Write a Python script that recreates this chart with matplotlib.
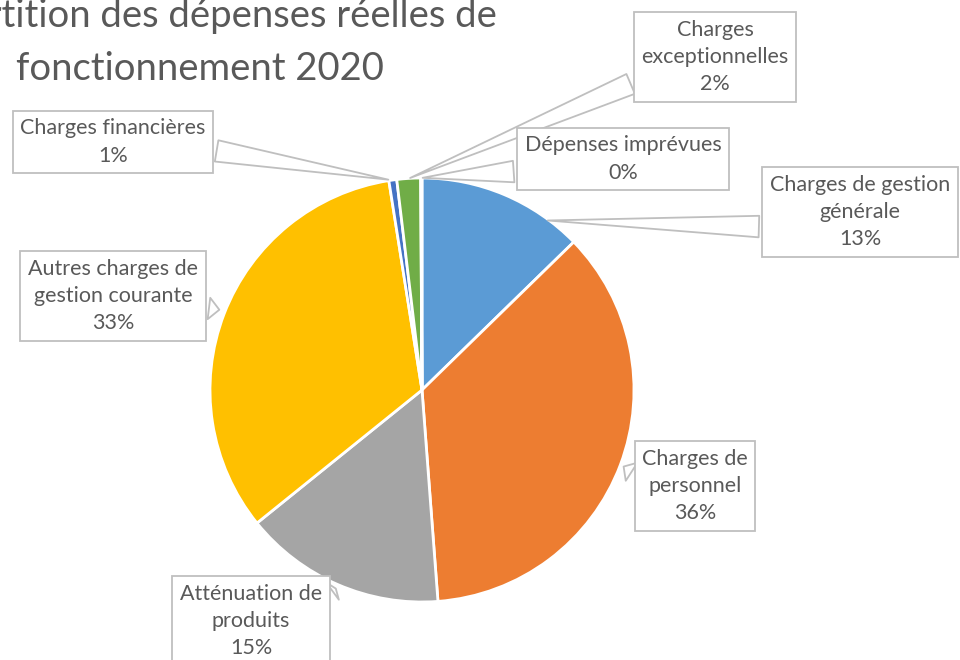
import matplotlib
matplotlib.use("Agg")
import matplotlib.pyplot as plt

# ---- data ----
categories = [
    "Charges de gestion\ngénérale",
    "Charges de\npersonnel",
    "Atténuation de\nproduits",
    "Autres charges de\ngestion courante",
    "Charges financières",
    "Charges\nexceptionnelles",
    "Dépenses imprévues",
]
values = [12.7, 36.1, 15.4, 33.3, 0.6, 1.8, 0.1]
title = "Répartition des dépenses réelles de\nfonctionnement 2020"

# ---- style ----
colors = ["#5B9BD5", "#ED7D31", "#A5A5A5", "#FFC000", "#4472C4", "#70AD47", "#264478"]
FONT = ["Lato", "DejaVu Sans"]
TXT = "#595959"
EDGE = "#BFBFBF"

W, H = 960, 660
fig = plt.figure(figsize=(W / 100, H / 100), dpi=100)

cx, cy, R = 422, 390, 212  # pie centre / radius in image pixels
ax = fig.add_axes([(cx - R) / W, (H - cy - R) / H, 2 * R / W, 2 * R / H])
ax.pie(values, colors=colors, startangle=90, counterclock=False, radius=1,
       wedgeprops=dict(edgecolor="white", linewidth=2))
ax.set_xlim(-1, 1)
ax.set_ylim(-1, 1)
ax.set_aspect("equal")
ax.axis("off")

# label layout: (text centre x, y in image px), (leader tip in data coords)
label_pos = [
    ((860, 212), (0.58, 0.80)),
    ((695, 486), (0.94, -0.354)),
    ((251, 621), (-0.396, -0.929)),
    ((113, 296), (-0.943, 0.377)),
    ((113, 142), (-0.146, 0.99)),
    ((715, 57), (-0.068, 0.995)),
    ((623, 159), (-0.01, 1.0)),
]
relpos = [(0.0, 0.3), (0.0, 0.6), (1.0, 0.8), (1.0, 0.35), (1.0, 0.35), (0.0, 0.2), (0.0, 0.25)]

total = sum(values)
for cat, v, (tp, tip), rp in zip(categories, values, label_pos, relpos):
    txt = f"{cat}\n{round(v / total * 100):.0f}%"
    ax.annotate(
        txt, xy=tip, xycoords="data",
        xytext=(tp[0], H - tp[1]), textcoords="figure pixels",
        ha="center", va="center", fontsize=15.5, color=TXT, family=FONT,
        linespacing=1.45,
        bbox=dict(boxstyle="square,pad=0.35", fc="white", ec=EDGE, lw=1.3),
        arrowprops=dict(arrowstyle="wedge,tail_width=1.0,shrink_factor=0.5",
                        fc="white", ec=EDGE, lw=1.3, relpos=rp),
        annotation_clip=False, zorder=5,
    )

fig.text(200 / W, 1 - 80 / H, title, ha="center", va="baseline",
         fontsize=27.5, color=TXT, family=FONT, linespacing=1.6)

fig.savefig("out.png", dpi=100, facecolor="white")
